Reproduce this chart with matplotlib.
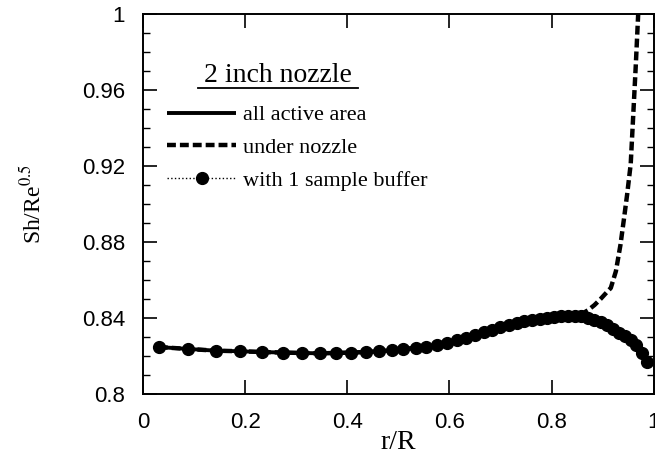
import matplotlib.pyplot as plt
from matplotlib.ticker import MultipleLocator

# sample radii (r/R)
r_samples = [0.031, 0.089, 0.143, 0.189, 0.233, 0.274, 0.311, 0.346, 0.378, 0.407,
             0.436, 0.462, 0.487, 0.510, 0.534, 0.555, 0.575, 0.595, 0.614, 0.632,
             0.650, 0.667, 0.684, 0.700, 0.716, 0.732, 0.747, 0.762, 0.777, 0.791,
             0.805, 0.819, 0.832, 0.845, 0.858, 0.871, 0.884, 0.896, 0.908, 0.920,
             0.932, 0.944, 0.955, 0.966, 0.977, 0.986]

# all active area
sh_all = [0.8247, 0.8237, 0.8228, 0.8225, 0.8221, 0.8218, 0.8216, 0.8214, 0.8216, 0.8218,
          0.8221, 0.8225, 0.8230, 0.8237, 0.8242, 0.8249, 0.8257, 0.8268, 0.8282, 0.8296,
          0.8311, 0.8325, 0.8339, 0.8352, 0.8363, 0.8373, 0.8382, 0.8390, 0.8397, 0.8402,
          0.8406, 0.8409, 0.8411, 0.8411, 0.8408, 0.8401, 0.8390, 0.8377, 0.8362, 0.8344,
          0.8323, 0.8307, 0.8285, 0.8256, 0.8218, 0.8168]

# with 1 sample buffer
sh_buffer = [0.8247, 0.8237, 0.8228, 0.8225, 0.8221, 0.8218, 0.8216, 0.8214, 0.8216, 0.8218,
             0.8221, 0.8225, 0.8230, 0.8237, 0.8242, 0.8249, 0.8257, 0.8268, 0.8282, 0.8296,
             0.8311, 0.8325, 0.8339, 0.8352, 0.8363, 0.8373, 0.8382, 0.8390, 0.8397, 0.8402,
             0.8406, 0.8409, 0.8411, 0.8411, 0.8408, 0.8401, 0.8390, 0.8377, 0.8362, 0.8344,
             0.8323, 0.8307, 0.8285, 0.8256, 0.8218, 0.8168]

# under nozzle
r_nozzle = [0.031, 0.089, 0.143, 0.189, 0.233, 0.274, 0.311, 0.346, 0.378, 0.407,
            0.436, 0.462, 0.487, 0.510, 0.534, 0.555, 0.575, 0.595, 0.614, 0.632,
            0.650, 0.667, 0.684, 0.700, 0.716, 0.732, 0.747, 0.762, 0.777, 0.791,
            0.805, 0.819, 0.832, 0.845, 0.858, 0.871, 0.884, 0.896, 0.908, 0.916,
            0.926, 0.935, 0.942, 0.948, 0.955, 0.960, 0.965, 0.970]
sh_nozzle = [0.8247, 0.8237, 0.8228, 0.8225, 0.8221, 0.8218, 0.8216, 0.8214, 0.8216, 0.8218,
             0.8221, 0.8225, 0.8230, 0.8237, 0.8242, 0.8249, 0.8257, 0.8268, 0.8282, 0.8296,
             0.8311, 0.8325, 0.8339, 0.8352, 0.8363, 0.8373, 0.8382, 0.8390, 0.8397, 0.8402,
             0.8406, 0.8409, 0.8411, 0.8413, 0.8420, 0.8440, 0.8468, 0.8500, 0.8535, 0.8558,
             0.8646, 0.8786, 0.8926, 0.9050, 0.9210, 0.9470, 0.9733, 1.0020]

serif = 'Liberation Serif'
sans = 'Liberation Sans'
plt.rcParams['mathtext.fontset'] = 'stix'

fig = plt.figure(figsize=(6.55, 4.73), dpi=100)
ax = fig.add_axes([0.2183, 0.167, 0.7797, 0.8036])

ax.plot(r_samples, sh_all, color='black', lw=2.8, solid_capstyle='butt',
        label='all active area')
ax.plot(r_nozzle, sh_nozzle, color='black', lw=3.2, ls=(0, (2.0, 0.9)),
        label='under nozzle')
ax.plot(r_samples, sh_buffer, color='black', lw=1.0, ls=':', marker='o', ms=8.5,
        label='with 1 sample buffer')

ax.set_xlim(0, 1)
ax.set_ylim(0.8, 1.0)
ax.set_xticks([0, 0.2, 0.4, 0.6, 0.8, 1.0])
ax.set_xticklabels(['0', '0.2', '0.4', '0.6', '0.8', '1'])
ax.set_yticks([0.8, 0.84, 0.88, 0.92, 0.96, 1.0])
ax.set_yticklabels(['0.8', '0.84', '0.88', '0.92', '0.96', '1'])
ax.yaxis.set_minor_locator(MultipleLocator(0.01))
ax.tick_params(which='major', direction='in', top=True, right=True, length=10,
               width=1.2, labelsize=16, pad=13)
ax.tick_params(which='minor', direction='in', right=True, length=5, width=1.0)
for lab in ax.get_xticklabels() + ax.get_yticklabels():
    lab.set_fontfamily(sans)
for sp in ax.spines.values():
    sp.set_linewidth(1.4)

ax.set_xlabel('r/R', fontfamily=serif, fontsize=20, labelpad=-2)
ax.set_ylabel('Sh/Re$^{0.5}$', fontfamily=serif, fontsize=17, labelpad=26)

leg = ax.legend(loc='upper left', bbox_to_anchor=(0.03, 0.784), frameon=False,
                prop={'family': serif, 'size': 16}, handlelength=3.1,
                handletextpad=0.3, labelspacing=0.55, borderaxespad=0)

ax.text(0.264, 0.839, '2 inch nozzle', transform=ax.transAxes, fontfamily=serif,
        fontsize=20, ha='center', va='center')
ax.plot([0.108, 0.421], [0.806, 0.806], transform=ax.transAxes, color='black', lw=1.3,
        clip_on=False)

fig.savefig('out.png', dpi=100)
